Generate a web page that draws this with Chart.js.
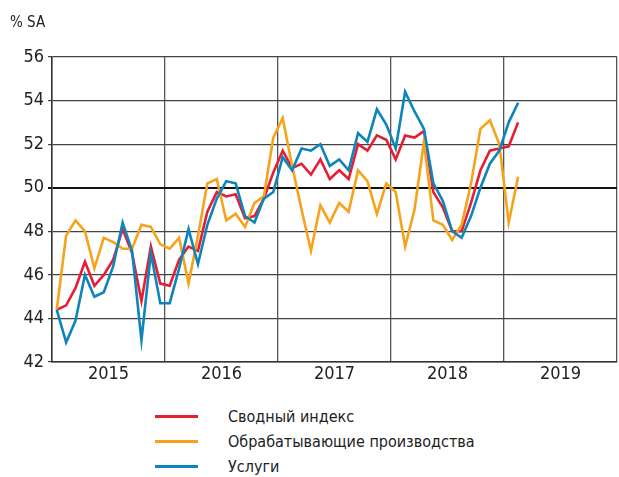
<!DOCTYPE html>
<html>
<head>
<meta charset="utf-8">
<script src="https://cdn.jsdelivr.net/npm/chart.js@4"></script>
<style>
  body { margin: 0; background: #fff; font-family: 'DejaVu Sans Condensed', 'Roboto', sans-serif; }
  #wrap { position: relative; width: 619px; height: 477px; }
  #chart { position: absolute; left: 0; top: 0; }
  .legend { position: absolute; left: 155px; top: 404px; color: #222; font-size: 16px; }
  .legend div { height: 25px; line-height: 25px; position: relative; padding-left: 73px; }
  .legend span { position: absolute; left: 0; top: 11px; width: 43px; height: 3px; }
</style>
</head>
<body>
<div id="wrap">
  <canvas id="chart" width="619" height="400"></canvas>
  <div class="legend" id="legend"></div>
</div>
<script>
// years on the x axis, 12 months each, starting Jan 2015
const years = ['2015', '2016', '2017', '2018', '2019'];
const seriesNames = ['Сводный индекс', 'Обрабатывающие производства', 'Услуги'];
const seriesColors = ['#e61e34', '#f6a31b', '#0d85bb'];
const yTicks = [42, 44, 46, 48, 50, 52, 54, 56];

// monthly PMI values, Jan 2015 .. Feb 2019
const composite = [44.4, 44.6, 45.4, 46.6, 45.5, 46.0, 46.7, 48.1, 47.0, 44.8, 47.3, 45.6,
  45.5, 46.7, 47.3, 47.1, 48.9, 49.8, 49.6, 49.7, 48.6, 48.7, 49.5, 50.7,
  51.7, 50.9, 51.1, 50.6, 51.3, 50.4, 50.8, 50.4, 52.0, 51.7, 52.4, 52.2,
  51.3, 52.4, 52.3, 52.6, 49.8, 49.1, 48.0, 48.0, 49.3, 50.8, 51.7, 51.8,
  51.9, 53.0];
const manufacturing = [44.4, 47.8, 48.5, 48.0, 46.3, 47.7, 47.5, 47.2, 47.2, 48.3, 48.2, 47.4,
  47.2, 47.7, 45.6, 47.8, 50.2, 50.4, 48.5, 48.8, 48.2, 49.3, 49.6, 52.3,
  53.2, 51.0, 49.0, 47.1, 49.2, 48.4, 49.3, 48.9, 50.8, 50.3, 48.8, 50.2,
  49.8, 47.3, 49.0, 52.1, 48.5, 48.3, 47.6, 48.3, 50.2, 52.7, 53.1, 52.0,
  48.4, 50.5];
const services = [44.4, 42.9, 43.9, 46.0, 45.0, 45.2, 46.4, 48.4, 47.1, 43.0, 47.0, 44.7,
  44.7, 46.3, 48.1, 46.5, 48.3, 49.5, 50.3, 50.2, 48.7, 48.4, 49.5, 49.8,
  51.4, 50.8, 51.8, 51.7, 52.0, 51.0, 51.3, 50.8, 52.5, 52.1, 53.6, 52.9,
  51.8, 54.4, 53.5, 52.7, 50.2, 49.4, 48.0, 47.7, 48.7, 50.0, 51.1, 51.7,
  53.0, 53.9];

const FONT = "'DejaVu Sans Condensed', 'Roboto', sans-serif";
const toPoints = arr => arr.map((v, i) => ({ x: i + 0.5, y: v }));

const allSeries = [composite, manufacturing, services];
const datasets = allSeries.map((arr, k) => ({
  label: seriesNames[k],
  data: toPoints(arr),
  borderColor: seriesColors[k],
  borderWidth: 2.6,
  pointRadius: 0,
  tension: 0,
  fill: false
}));
// draw services first, then manufacturing, composite on top
datasets.reverse();

// "% SA" unit label in the top left corner
const unitLabel = {
  id: 'unitLabel',
  afterDraw(chart) {
    const ctx = chart.ctx;
    ctx.save();
    ctx.fillStyle = '#222';
    ctx.font = '15px ' + FONT;
    ctx.textBaseline = 'middle';
    ctx.fillText('% SA', 10, 23);
    ctx.restore();
  }
};

new Chart(document.getElementById('chart'), {
  type: 'line',
  data: { datasets },
  options: {
    responsive: false,
    animation: false,
    layout: { padding: { top: 57, right: 0, left: 0, bottom: 0 } },
    plugins: { legend: { display: false }, tooltip: { enabled: false } },
    scales: {
      x: {
        type: 'linear',
        min: 0,
        max: years.length * 12,
        afterFit: s => { s.height = 38; },
        afterBuildTicks: s => {
          const t = [];
          for (let v = 0; v <= years.length * 12; v += 6) t.push({ value: v });
          s.ticks = t;
        },
        ticks: {
          autoSkip: false,
          maxRotation: 0,
          padding: 2,
          color: '#222',
          font: { family: FONT, size: 18 },
          callback: v => (v % 12 === 6 ? years[(v - 6) / 12] : '')
        },
        grid: {
          drawTicks: false,
          color: c => (c.tick && c.tick.value % 12 === 0 ? '#555' : 'rgba(0,0,0,0)'),
          lineWidth: 1.3
        },
        border: { color: '#333', width: 1.5 }
      },
      y: {
        min: yTicks[0],
        max: yTicks[yTicks.length - 1],
        afterFit: s => { s.width = 52; },
        afterBuildTicks: s => { s.ticks = yTicks.map(v => ({ value: v })); },
        ticks: {
          color: '#222',
          padding: 4,
          font: { family: FONT, size: 18 }
        },
        grid: {
          tickLength: 4,
          color: c => (c.tick && c.tick.value === 50 ? '#111' : '#444'),
          lineWidth: c => (c.tick && c.tick.value === 50 ? 2 : 1.2)
        },
        border: { color: '#333', width: 1.5 }
      }
    }
  },
  plugins: [unitLabel]
});

// legend below the chart
const legend = document.getElementById('legend');
seriesNames.forEach((name, k) => {
  const row = document.createElement('div');
  const line = document.createElement('span');
  line.style.background = seriesColors[k];
  row.appendChild(line);
  row.appendChild(document.createTextNode(name));
  legend.appendChild(row);
});
</script>
</body>
</html>
